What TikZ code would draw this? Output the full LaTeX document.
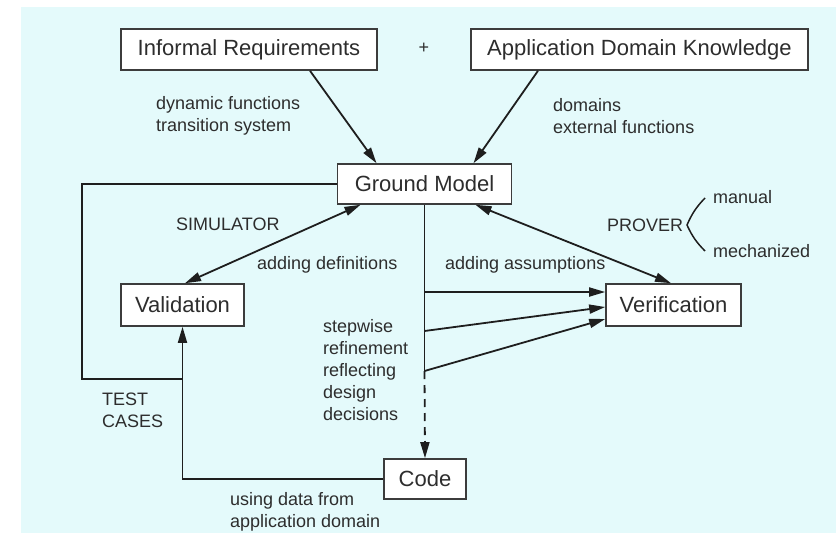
\documentclass[tikz,border=0pt]{standalone}
\usepackage{fontspec}
\setmainfont{Liberation Sans}
\usetikzlibrary{arrows.meta,calc}
\definecolor{bgc}{RGB}{228,250,251}
\definecolor{ink}{RGB}{30,30,30}
\definecolor{boxline}{RGB}{60,60,60}
\definecolor{txt}{RGB}{45,45,45}
\begin{document}
\begin{tikzpicture}[x=1pt,y=-1pt,
  box/.style={draw=boxline,line width=1.6pt,fill=white,inner sep=0pt,font=\fontsize{22}{26}\selectfont,text=txt},
  lbl/.style={font=\fontsize{18}{22}\selectfont,text=txt,inner sep=0pt,align=left,anchor=west},
  conn/.style={draw=ink,line width=1.8pt},
  arr/.style={conn,-{Triangle[length=16pt,width=9pt]}},
  darr/.style={conn,{Triangle[length=16pt,width=9pt]}-{Triangle[length=16pt,width=9pt]}}]
\useasboundingbox (0,0) rectangle (836,533);
\fill[bgc] (21,7) rectangle (836,533);
% boxes
\node[box,minimum width=256pt,minimum height=41pt] (IR) at (249,49.5) {Informal Requirements};
\node[box,minimum width=337pt,minimum height=41pt] (ADK) at (639.5,49.5) {Application Domain Knowledge};
\node[font=\fontsize{18}{22}\selectfont,text=txt] (plus) at (424,48) {+};
\node[box,minimum width=174pt,minimum height=40pt] (GM) at (424.5,184) {Ground Model};
\node[box,minimum width=123pt,minimum height=42pt] (VAL) at (182.5,305) {Validation};
\node[box,minimum width=135pt,minimum height=42pt] (VER) at (673.5,305) {Verification};
\node[box,minimum width=82pt,minimum height=40pt] (CODE) at (425,479) {Code};
% connectors
\draw[arr] ([xshift=61pt]IR.south) -- ([xshift=-48pt]GM.north);
\draw[arr] ([xshift=-101.5pt]ADK.south) -- ([xshift=49pt]GM.north);
\draw[darr] ([xshift=-64pt]GM.south) -- ([xshift=2.5pt]VAL.north);
\draw[darr] ([xshift=51pt]GM.south) -- ([xshift=-2.5pt]VER.north);
\coordinate (j1) at (424.5,292);
\coordinate (j2) at (424.5,331);
\coordinate (j3) at (424.5,371);
\draw[conn] (GM.south) -- (j3);
\draw[arr] (j1) -- (j1 -| VER.west);
\draw[arr] (j2) -- ([yshift=-2pt]VER.west);
\draw[arr] (j3) -- ([yshift=-14pt]VER.west);
\draw[arr,dash pattern=on 8pt off 6pt] (j3) -- (CODE.north);
\coordinate (lc) at (82,379);
\draw[conn] (GM.west) -| (lc) -- (VAL.south |- lc);
\draw[arr] (CODE.west) -| (VAL.south);
% prover brace
\draw[ink,line width=1.5pt] (705,198) to[bend right=10] (687,225) to[bend right=10] (705,251);
% labels
\node[lbl] (dyn) at (156,116) {dynamic functions\\transition system};
\node[lbl] (dom) at (553,116) {domains\\external functions};
\node[lbl] (sim) at (176,224) {SIMULATOR};
\node[lbl] (adef) at (257,265) {adding definitions};
\node[lbl] (aass) at (445,265) {adding assumptions};
\node[lbl] (prov) at (607,225) {PROVER};
\node[lbl] (man) at (713,197) {manual};
\node[lbl] (mech) at (713,251) {mechanized};
\node[lbl] (swr) at (323,370) {stepwise\\refinement\\reflecting\\design\\decisions};
\node[lbl] (tcs) at (102,410) {TEST\\CASES};
\node[lbl] (usd) at (230,512) {using data from\\application domain};
\end{tikzpicture}
\end{document}
